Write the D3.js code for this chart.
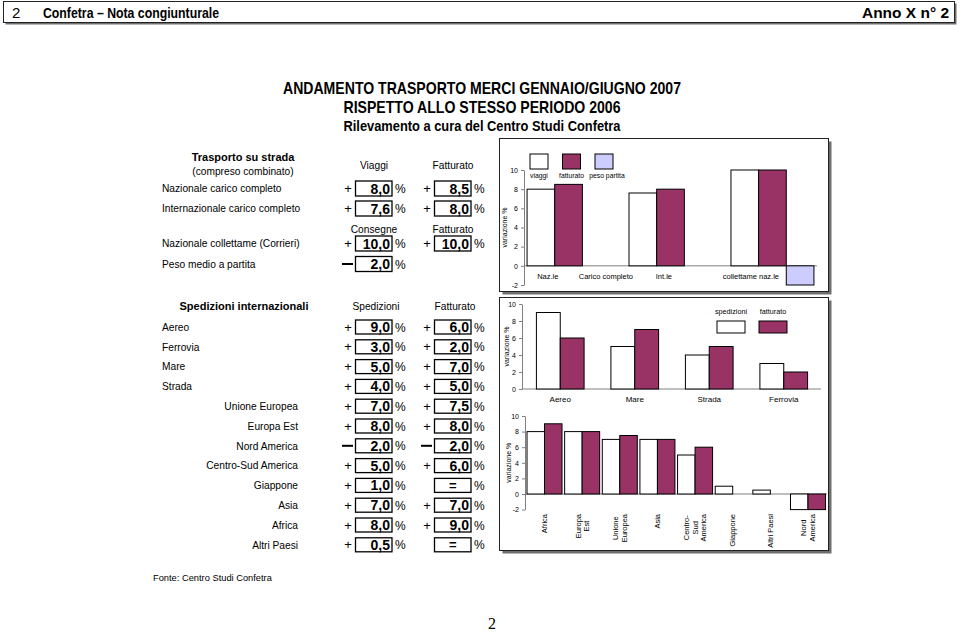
<!DOCTYPE html>
<html><head><meta charset="utf-8">
<script src="https://cdn.jsdelivr.net/npm/d3@7/dist/d3.min.js"></script>
<style>
body{margin:0;background:#fff}
svg{display:block}
text{font-family:"Liberation Sans",Arial,sans-serif;fill:#000}
.narrow{font-family:"Liberation Sans Narrow","Arial Narrow","Liberation Sans",Arial,sans-serif}
</style>
</head><body>
<svg id="c" width="960" height="633"></svg>
<script>
// ---------- DATA ----------
const roadLabels = ["Nazionale carico completo","Internazionale carico completo","Nazionale collettame (Corrieri)","Peso medio a partita"];
const roadFirst = [8.0, 7.6, 10.0, -2.0];
const roadSecond = [8.5, 8.0, 10.0, null];

const roadCats = ["Naz.le","Int.le","collettame naz.le"];
const roadSeries = ["viaggi","fatturato","peso partita"];
const roadTrips = [8.0, 7.6, 10.0];
const roadRevenue = [8.5, 8.0, 10.0];
const roadWeight = [null, null, -2.0];
const roadTicks = [-2, 0, 2, 4, 6, 8, 10];
const roadMidLabel = "Carico completo";

const modeLabels = ["Aereo","Ferrovia","Mare","Strada"];
const modeShip = [9.0, 3.0, 5.0, 4.0];
const modeRev = [6.0, 2.0, 7.0, 5.0];

const modeCats = ["Aereo","Mare","Strada","Ferrovia"];
const modeSeries = ["spedizioni","fatturato"];
const modeCatShip = [9, 5, 4, 3];
const modeCatRev = [6, 7, 5, 2];
const modeTicks = [0, 2, 4, 6, 8, 10];

const areaLabels = ["Unione Europea","Europa Est","Nord America","Centro-Sud America","Giappone","Asia","Africa","Altri Paesi"];
const areaShip = [7.0, 8.0, -2.0, 5.0, 1.0, 7.0, 8.0, 0.5];
const areaRev = [7.5, 8.0, -2.0, 6.0, 0, 7.0, 9.0, 0];

const areaCats = ["Africa","Europa\nEst","Unione\nEuropea","Asia","Centro-\nSud\nAmerica","Giappone","Altri Paesi","Nord\nAmerica"];
const areaCatShip = [8, 8, 7, 7, 5, 1, 0.5, -2];
const areaCatRev = [9, 8, 7.5, 7, 6, 0, 0, -2];
const areaTicks = [-2, 0, 2, 4, 6, 8, 10];

// ---------- DRAW ----------
const svg = d3.select("#c");
const PLUM = "#993366", LILAC = "#ccccff", AXIS = "#808080";

function shadowBox(x, y, w, h, off) {
  svg.append("rect").attr("x", x + off).attr("y", y + off).attr("width", w).attr("height", h).attr("fill", "#6e6e6e");
  svg.append("rect").attr("x", x).attr("y", y).attr("width", w).attr("height", h).attr("fill", "#fff").attr("stroke", "#222").attr("stroke-width", 1);
}

// header
shadowBox(3.5, 1.5, 951, 21, 2);
svg.append("text").attr("class", "narrow").attr("x", 12).attr("y", 18).attr("font-size", 15).text("2");
svg.append("text").attr("class", "narrow").attr("x", 43).attr("y", 18).attr("font-size", 15).attr("font-weight", "bold")
  .attr("textLength", 176).attr("lengthAdjust", "spacingAndGlyphs").text("Confetra – Nota congiunturale");
svg.append("text").attr("class", "narrow").attr("x", 862).attr("y", 18).attr("font-size", 15).attr("font-weight", "bold")
  .attr("textLength", 87).attr("lengthAdjust", "spacingAndGlyphs").text("Anno X  n°  2");

// titles
const titles = [
  {t: "ANDAMENTO TRASPORTO MERCI GENNAIO/GIUGNO 2007", y: 94, s: 17, w: 398},
  {t: "RISPETTO ALLO STESSO PERIODO 2006", y: 113, s: 17, w: 277},
  {t: "Rilevamento a cura del Centro Studi Confetra", y: 131, s: 14, w: 277}
];
titles.forEach(d => {
  svg.append("text").attr("class", "narrow").attr("x", 482).attr("y", d.y).attr("font-size", d.s)
    .attr("font-weight", "bold").attr("text-anchor", "middle")
    .attr("textLength", d.w).attr("lengthAdjust", "spacingAndGlyphs").text(d.t);
});

// frames
shadowBox(499.5, 138.5, 329, 153, 3);
shadowBox(499.5, 297.5, 329, 253, 3);

// ---------- TABLES ----------
const LBL = 10.2;
const col1 = 355.5, col2 = 434.5, boxW = 36.5;
const fmt = v => Math.abs(v).toFixed(1).replace(".", ",");

function valueBox(x0, cy, v, h) {
  if (v === null || v === undefined) return;
  if (v > 0) {
    svg.append("text").attr("x", x0 - 7.5).attr("y", cy + 4.5).attr("font-size", 13).attr("text-anchor", "middle").attr("fill", "#333").text("+");
  } else if (v < 0) {
    svg.append("line").attr("x1", x0 - 13.5).attr("x2", x0 - 2.5).attr("y1", cy).attr("y2", cy).attr("stroke", "#000").attr("stroke-width", 2);
  }
  svg.append("rect").attr("x", x0).attr("y", cy - h / 2).attr("width", boxW).attr("height", h)
    .attr("fill", "none").attr("stroke", "#000").attr("stroke-width", 1.3);
  if (v === 0) {
    svg.append("text").attr("x", x0 + boxW / 2).attr("y", cy + 4.5).attr("font-size", 13).attr("font-weight", "bold").attr("text-anchor", "middle").text("=");
  } else {
    svg.append("text").attr("x", x0 + boxW - 2).attr("y", cy + 5).attr("font-size", 14).attr("font-weight", "bold").attr("text-anchor", "end").text(fmt(v));
  }
  svg.append("text").attr("x", x0 + boxW + 3).attr("y", cy + 4.5).attr("font-size", 12).attr("fill", "#333").text("%");
}
function label(x, y, t, opts = {}) {
  return svg.append("text").attr("x", x).attr("y", y).attr("font-size", opts.size || LBL)
    .attr("font-weight", opts.bold ? "bold" : null).attr("text-anchor", opts.anchor || "start").text(t);
}

// road table
label(243, 161, "Trasporto su strada", {bold: true, anchor: "middle", size: 11});
label(243, 175, "(compreso combinato)", {anchor: "middle"});
label(374, 169, "Viaggi", {anchor: "middle"});
label(453, 169, "Fatturato", {anchor: "middle"});
label(374, 233, "Consegne", {anchor: "middle"});
label(453, 233, "Fatturato", {anchor: "middle"});
const roadY = [188.5, 208.5, 243.5, 264];
roadLabels.forEach((t, i) => {
  label(162, roadY[i] + 3.7, t);
  valueBox(col1, roadY[i], roadFirst[i], 15);
  valueBox(col2, roadY[i], roadSecond[i], 15);
});

// international table
label(244, 310, "Spedizioni internazionali", {bold: true, anchor: "middle", size: 11});
label(376, 310, "Spedizioni", {anchor: "middle"});
label(455, 310, "Fatturato", {anchor: "middle"});
const rowY = i => 327 + i * 19.8;
modeLabels.forEach((t, i) => {
  label(162, rowY(i) + 3.7, t);
  valueBox(col1, rowY(i), modeShip[i], 14);
  valueBox(col2, rowY(i), modeRev[i], 14);
});
areaLabels.forEach((t, j) => {
  const i = j + modeLabels.length;
  label(298, rowY(i) + 3.7, t, {anchor: "end"});
  valueBox(col1, rowY(i), areaShip[j], 14);
  valueBox(col2, rowY(i), areaRev[j], 14);
});

label(153, 581, "Fonte:  Centro Studi Confetra", {size: 9.3});
svg.append("text").attr("x", 492).attr("y", 629).attr("font-size", 16).attr("text-anchor", "middle")
  .style("font-family", "'Liberation Serif','Times New Roman',serif").text("2");

// ---------- CHART HELPERS ----------
function yAxis(g, y, ticks, x, titleX) {
  const ax = g.append("g").attr("transform", `translate(${x},0)`)
    .call(d3.axisLeft(y).tickValues(ticks).tickSize(3).tickSizeOuter(0).tickPadding(3).tickFormat(d => String(d)));
  ax.select(".domain").attr("stroke", AXIS);
  ax.selectAll(".tick line").attr("stroke", AXIS);
  ax.selectAll(".tick text").attr("font-size", 7).style("font-family", "'Liberation Sans',Arial,sans-serif").attr("fill", "#000");
  const [r0, r1] = y.range();
  g.append("text").attr("transform", `translate(${titleX},${(r0 + r1) / 2}) rotate(-90)`)
    .attr("text-anchor", "middle").attr("font-size", 7).text("variazione %");
}
function zeroLine(g, y, x0, x1) {
  g.append("line").attr("x1", x0).attr("x2", x1).attr("y1", y(0)).attr("y2", y(0)).attr("stroke", AXIS).attr("stroke-width", 1);
}
function bars(g, x, inner, y, cats, seriesVals, seriesNames, colors) {
  cats.forEach((c, i) => {
    seriesNames.forEach((s, k) => {
      const v = seriesVals[k][i];
      if (v === null || v === 0) return;
      g.append("rect")
        .attr("x", x(c) + inner(s)).attr("width", inner.bandwidth())
        .attr("y", y(Math.max(0, v))).attr("height", Math.abs(y(v) - y(0)))
        .attr("fill", colors[k]).attr("stroke", "#000").attr("stroke-width", 1);
    });
  });
}
function legendBox(g, x, y, w, h, fill) {
  g.append("rect").attr("x", x).attr("y", y).attr("width", w).attr("height", h).attr("fill", fill).attr("stroke", "#000").attr("stroke-width", 1);
}

// ---------- TOP CHART ----------
{
  const g = svg.append("g");
  const y = d3.scaleLinear().domain([-2, 10]).range([285, 170]);
  const x = d3.scaleBand().domain(roadCats).range([524, 817]).paddingInner(0.186).paddingOuter(0.03);
  const inner = d3.scaleBand().domain(roadSeries).range([0, x.bandwidth()]);
  zeroLine(g, y, 524, 817);
  bars(g, x, inner, y, roadCats, [roadTrips, roadRevenue, roadWeight], roadSeries, ["#fff", PLUM, LILAC]);
  yAxis(g, y, roadTicks, 524, 507);
  const offs = [0.25, 0.42, 0.24];
  const lx = roadCats.map((c, i) => x(c) + x.bandwidth() * offs[i]);
  roadCats.forEach((c, i) => g.append("text").attr("x", lx[i]).attr("y", 279).attr("font-size", 7.5).attr("text-anchor", "middle").text(c));
  g.append("text").attr("x", (lx[0] + lx[1]) / 2).attr("y", 279).attr("font-size", 7.5).attr("text-anchor", "middle").text(roadMidLabel);
  // legend
  const lcol = ["#fff", PLUM, LILAC];
  roadSeries.forEach((s, k) => {
    const bx = 530 + k * 32.5;
    legendBox(g, bx, 154, 18, 15, lcol[k]);
    g.append("text").attr("x", bx + 9 + (k === 2 ? 3 : 0)).attr("y", 177.5).attr("font-size", 6.8).attr("text-anchor", "middle").text(s);
  });
}

// ---------- MIDDLE CHART ----------
{
  const g = svg.append("g");
  const y = d3.scaleLinear().domain([0, 10]).range([389, 304]);
  const x = d3.scaleBand().domain(modeCats).range([523, 821]).paddingInner(0.36).paddingOuter(0.18);
  const inner = d3.scaleBand().domain(modeSeries).range([0, x.bandwidth()]);
  zeroLine(g, y, 522, 821);
  bars(g, x, inner, y, modeCats, [modeCatShip, modeCatRev], modeSeries, ["#fff", PLUM]);
  yAxis(g, y, modeTicks, 522, 509);
  modeCats.forEach(c => g.append("text").attr("x", x(c) + x.bandwidth() / 2).attr("y", 402).attr("font-size", 8).attr("text-anchor", "middle").text(c));
  const lcol = ["#fff", PLUM];
  modeSeries.forEach((s, k) => {
    const bx = 717 + k * 42;
    legendBox(g, bx, 321, 28, 12, lcol[k]);
    g.append("text").attr("x", bx + 14).attr("y", 314).attr("font-size", 7.2).attr("text-anchor", "middle").text(s);
  });
}

// ---------- BOTTOM CHART ----------
{
  const g = svg.append("g");
  const y = d3.scaleLinear().domain([-2, 10]).range([509.6, 416]);
  const x = d3.scaleBand().domain(areaCats).range([525.5, 827]).paddingInner(0.07).paddingOuter(0.04);
  const inner = d3.scaleBand().domain(modeSeries).range([0, x.bandwidth()]);
  zeroLine(g, y, 525, 827);
  bars(g, x, inner, y, areaCats, [areaCatShip, areaCatRev], modeSeries, ["#fff", PLUM]);
  yAxis(g, y, areaTicks, 525, 511);
  areaCats.forEach(c => {
    const lines = c.split("\n");
    const cx = x(c) + x.bandwidth() / 2;
    const ts = lines.map((l, i) => g.append("text")
      .attr("font-size", 7.5).attr("text-anchor", "middle").attr("dy", "0.35em")
      .attr("data-x", cx + (i - (lines.length - 1) / 2) * 8.5).text(l));
    ts.forEach(t => t.attr("transform", `translate(${t.attr("data-x")},600) rotate(-90)`));
    const maxLen = d3.max(ts, t => t.node().getComputedTextLength());
    const mid = 514 + maxLen / 2;
    ts.forEach(t => t.attr("transform", `translate(${t.attr("data-x")},${mid}) rotate(-90)`));
  });
}
</script>
</body></html>
